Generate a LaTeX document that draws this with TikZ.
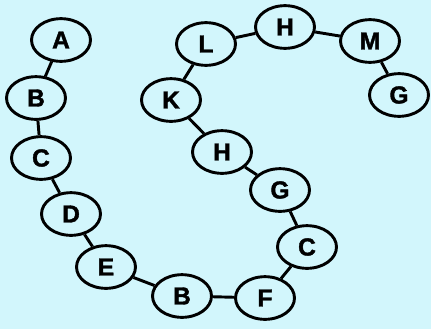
\documentclass[tikz,border=0pt]{standalone}
\usepackage{fontspec}
\setsansfont{Liberation Sans}[BoldFeatures={FakeBold=1.6}]
\usetikzlibrary{shapes.geometric}
\definecolor{bgcyan}{RGB}{210,246,252}

\begin{document}
\begin{tikzpicture}[x=0.03cm,y=-0.03cm,line width=2.5pt,
    letter/.style={draw,ellipse,inner sep=0pt,minimum width=1.77cm,minimum height=1.28cm,
      font=\sffamily\bfseries\fontsize{21}{21}\selectfont}]
    \fill[bgcyan] (0,0) rectangle (431,329);
    \useasboundingbox (0,0) rectangle (431,329);
    \foreach \n/\x/\y/\l in {a/61/40/A,b1/36/98/B,c1/41/158/C,d/71/214/D,e/106/267/E,
      b2/182/296/B,f/265/298/F,c2/307/247/C,g1/280/190/G,h1/222/152/H,k/171/100/K,
      l/206/44/L,h2/285/27/H,m/370/41/M,g2/399/95/G}{
    \node[letter] (\n) at(\x,\y){\l};
    }
    \draw (a)--(b1) (b1)--(c1) (c1)--(d) (d)--(e) (e)--(b2) (b2)--(f) (f)--(c2)
      (c2)--(g1) (g1)--(h1) (h1)--(k) (k)--(l) (l)--(h2) (h2)--(m) (m)--(g2);
    \end{tikzpicture}
\end{document}
